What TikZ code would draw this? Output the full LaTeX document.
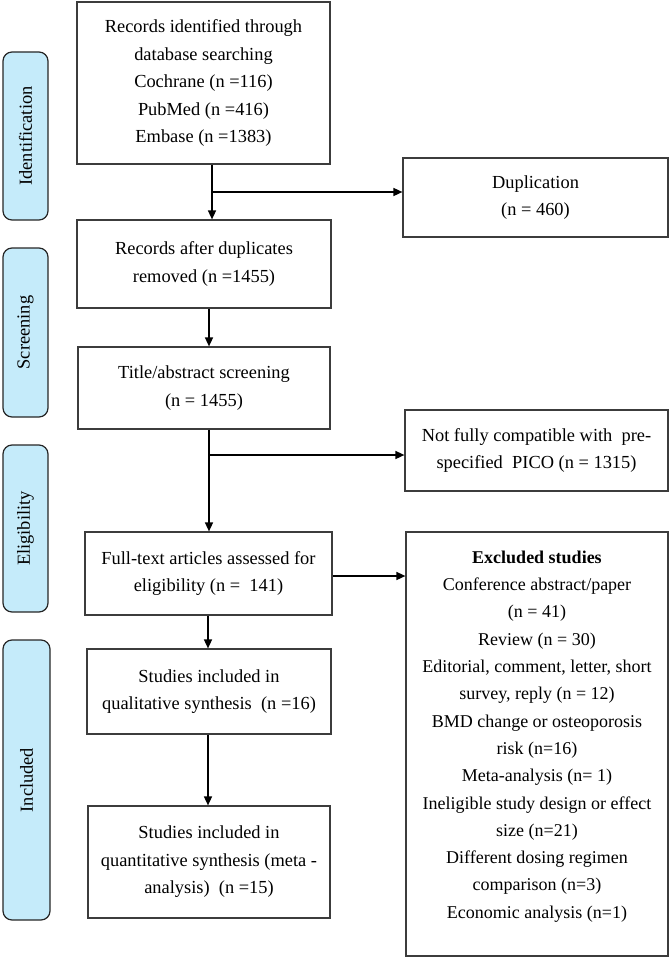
\documentclass[tikz,border=0pt]{standalone}
\usepackage{fontspec}
\setmainfont{Liberation Serif}
\usetikzlibrary{arrows.meta,calc}
\definecolor{sidefill}{RGB}{197,235,250}
\definecolor{boxline}{RGB}{60,60,60}
\begin{document}
\begin{tikzpicture}[x=1pt,y=-1pt,
  boxnode/.style={draw=boxline, line width=1.2pt, fill=white, align=center, inner sep=0pt,
    font=\fontsize{18.4}{27.5}\selectfont},
  sidenode/.style={draw=black!85, line width=1.2pt, fill=sidefill, rounded corners=9pt,
    rotate=90, inner sep=0pt, font=\fontsize{18.4}{22}\selectfont},
  arr/.style={draw=black, line width=1.5pt, -{Triangle[length=9pt,width=8pt]}},
  plainline/.style={draw=black, line width=1.5pt}]
\useasboundingbox (0,0) rectangle (671,958);

% side labels
\node[sidenode, minimum width=168pt, minimum height=45pt] (sid) at (25.5,136) {Identification};
\node[sidenode, minimum width=169pt, minimum height=45pt] (ssc) at (25.5,332.5) {Screening};
\node[sidenode, minimum width=167pt, minimum height=45pt] (sel) at (25.5,528.5) {Eligibility};
\node[sidenode, minimum width=280pt, minimum height=47pt] (sin) at (26.5,780) {Included};

% main boxes
\node[boxnode, minimum width=253pt, minimum height=162pt] (b1) at (203.5,83)
  {Records identified through\\database searching\\Cochrane (n =116)\\PubMed (n =416)\\Embase (n =1383)};
\node[boxnode, minimum width=254pt, minimum height=88pt] (b2) at (204,264)
  {Records after duplicates\\removed (n =1455)};
\node[boxnode, minimum width=252pt, minimum height=82pt] (b3) at (204,388)
  {Title/abstract screening\\(n = 1455)};
\node[boxnode, minimum width=247pt, minimum height=83pt] (b4) at (208.5,573.5)
  {Full-text articles assessed for\\eligibility (n =\ \ 141)};
\node[boxnode, minimum width=244pt, minimum height=85pt] (b5) at (209,691.5)
  {Studies included in\\qualitative synthesis\ \ (n =16)};
\node[boxnode, minimum width=242pt, minimum height=112pt] (b6) at (209,862)
  {Studies included in\\quantitative synthesis (meta -\\analysis)\ \ (n =15)};

% right boxes
\node[boxnode, minimum width=265pt, minimum height=79pt] (dup) at (535.5,197.5)
  {Duplication\\(n = 460)};
\node[boxnode, minimum width=263pt, minimum height=81pt] (nf) at (536.5,450.5)
  {Not fully compatible with\ \ pre-\\specified\ \ PICO (n = 1315)};
\node[boxnode, minimum width=262pt, minimum height=424pt] (excl) at (537,744) {};
\node[align=center, inner sep=0pt, font=\fontsize{18}{27.3}\selectfont] (excltxt) at (537,736.5)
  {\textbf{Excluded studies}\\Conference abstract/paper\\(n = 41)\\Review (n = 30)\\Editorial, comment, letter, short\\survey, reply (n = 12)\\BMD change or osteoporosis\\risk (n=16)\\Meta-analysis (n= 1)\\Ineligible study design or effect\\size (n=21)\\Different dosing regimen\\comparison (n=3)\\Economic analysis (n=1)};

% junctions
\coordinate (j1) at (212,192);
\coordinate (j2) at (209,455);

% connectors
\draw[arr] ([xshift=8.5pt]b1.south) -- ([xshift=8.5pt]b1.south |- b2.north);
\draw[arr] (j1) -- (j1 -| dup.west);
\draw[arr] ([xshift=5pt]b2.south) -- ([xshift=5pt]b2.south |- b3.north);
\draw[arr] ([xshift=5pt]b3.south) -- ([xshift=5pt]b3.south |- b4.north);
\draw[arr] (j2) -- (j2 -| nf.west);
\draw[arr] ([yshift=-2.5pt]b4.east) -- ([yshift=-2.5pt]b4.east -| excl.west);
\draw[arr] ([xshift=-0.5pt]b4.south) -- ([xshift=-0.5pt]b4.south |- b5.north);
\draw[arr] ([xshift=-1pt]b5.south) -- ([xshift=-1pt]b5.south |- b6.north);
\end{tikzpicture}
\end{document}
